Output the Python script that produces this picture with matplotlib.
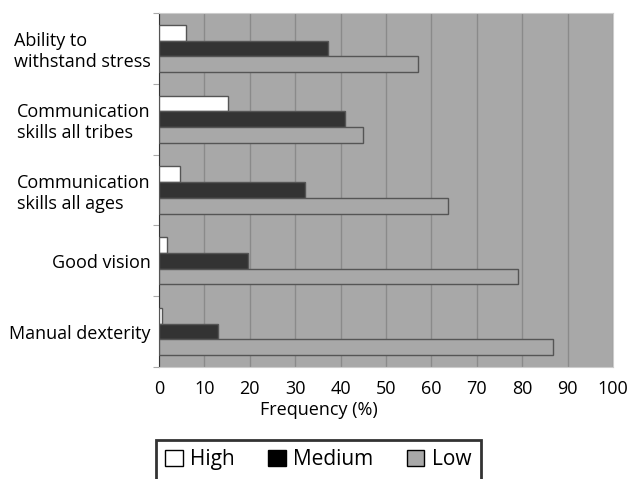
import matplotlib.pyplot as plt
import numpy as np
from matplotlib.patches import Patch

plt.rcParams['font.family'] = ['Open Sans', 'DejaVu Sans']
plt.rcParams['font.size'] = 13

# categories top to bottom
categories = ["Ability to\nwithstand stress", "Communication\nskills all tribes",
              "Communication\nskills all ages", "Good vision", "Manual dexterity"]
high = [6.0, 15.1, 4.7, 1.8, 0.7]
medium = [37.3, 40.9, 32.1, 19.5, 12.9]
low = [57.0, 44.9, 63.6, 79.0, 86.8]
xticks = list(range(0, 101, 10))

bg = '#a8a8a8'
fig = plt.figure(figsize=(6.3, 4.79), dpi=100)
ax = fig.add_axes([0.2524, 0.2338, 0.7206, 0.7391])
ax.set_facecolor(bg)

y = np.arange(len(categories))
h = 1 / 4.5
ax.barh(y - h, high, height=h, color='white', edgecolor='#555555', linewidth=1, zorder=3)
ax.barh(y, medium, height=h, color='#333333', edgecolor='#555555', linewidth=1, zorder=3)
ax.barh(y + h, low, height=h, color=bg, edgecolor='#555555', linewidth=1, zorder=3)

ax.set_xlim(0, 100)
ax.set_ylim(len(categories) - 0.5, -0.5)
ax.set_xticks(xticks)
ax.set_xticklabels([str(t) for t in xticks])
ax.tick_params(axis='x', length=0, pad=9)
ax.grid(axis='x', color='#8a8a8a', linewidth=1, zorder=0)

ax.set_yticks(np.arange(len(categories) + 1) - 0.5, minor=False)
ax.set_yticklabels([])
ax.set_yticks(y, minor=True)
ax.set_yticklabels(categories, minor=True, ha='right', multialignment='left')
ax.tick_params(axis='y', which='minor', length=0, pad=6)
ax.tick_params(axis='y', which='major', length=4, color='#aaaaaa')

for s in ['top', 'right', 'bottom']:
    ax.spines[s].set_color('#cccccc')
ax.spines['left'].set_color('#333333')

ax.set_xlabel("Frequency (%)", labelpad=4)
ax.xaxis.set_label_coords(0.352, -0.095)

handles = [Patch(facecolor='white', edgecolor='black', label='High'),
           Patch(facecolor='black', edgecolor='black', label='Medium'),
           Patch(facecolor=bg, edgecolor='black', label='Low')]
leg = fig.legend(handles=handles, ncol=3, loc='upper center', bbox_to_anchor=(0.505, 0.0814),
                 frameon=True, fancybox=False, edgecolor='black', handlelength=0.85,
                 handleheight=0.85, handletextpad=0.35, columnspacing=1.6, fontsize=15,
                 borderpad=0.45, borderaxespad=0)
leg.get_frame().set_linewidth(2)

fig.savefig('out.png', dpi=100)
